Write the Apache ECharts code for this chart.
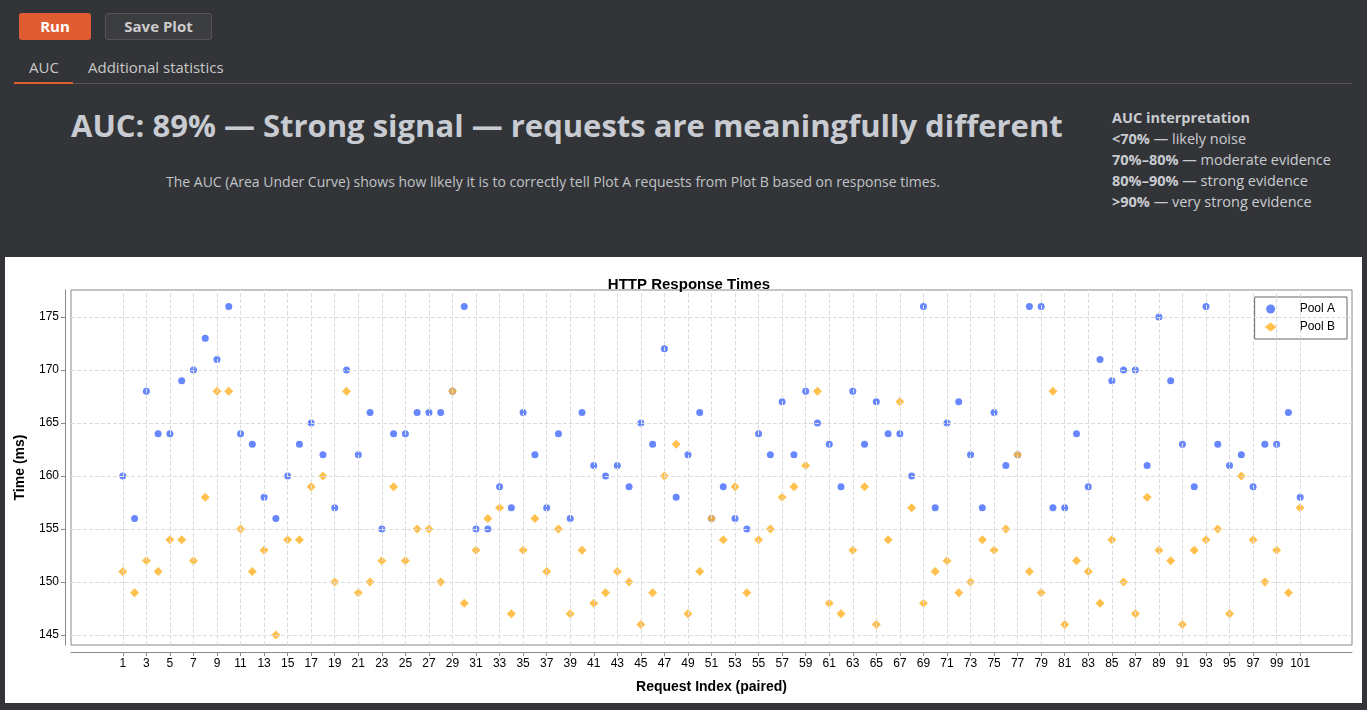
<!DOCTYPE html>
<html><head><meta charset="utf-8">
<script src="https://cdn.jsdelivr.net/npm/echarts@6/dist/echarts.min.js"></script>
<style>
body{margin:0;width:1367px;height:710px;background:#333437;font-family:"Open Sans","Noto Sans",sans-serif;overflow:hidden;position:relative;color:#ccc}
.btn{position:absolute;top:13px;height:27px;border-radius:3px;font-weight:bold;font-size:15px;line-height:27px;text-align:center}
#run{left:19px;width:72px;background:#e05d33;color:#fff}
#save{left:105px;width:105px;background:#3c3d41;border:1px solid #555;color:#ccc;height:25px;line-height:25px}
.tab{position:absolute;top:57px;font-size:15px;color:#c8c8c8}
#line{position:absolute;left:14px;top:83px;width:1338px;height:1px;background:#555}
#under{position:absolute;left:14px;top:82px;width:59px;height:2px;background:#e05d33}
#head{position:absolute;left:71px;top:104px;font-size:31px;font-weight:bold;color:#c8ccd2}
#sub{position:absolute;left:166px;top:172px;font-size:14px;color:#c0c4c8}
#interp{position:absolute;left:1112px;top:107px;font-size:14.5px;line-height:21px;color:#c8ccd2}
#chart{position:absolute;left:5px;top:257px;width:1357px;height:446px;background:#fff}
</style></head><body>
<div id="run" class="btn">Run</div><div id="save" class="btn">Save Plot</div>
<div class="tab" style="left:29px">AUC</div><div class="tab" style="left:88px">Additional statistics</div>
<div id="line"></div><div id="under"></div>
<div id="head">AUC: 89% — Strong signal — requests are meaningfully different</div>
<div id="sub">The AUC (Area Under Curve) shows how likely it is to correctly tell Plot A requests from Plot B based on response times.</div>
<div id="interp"><b>AUC interpretation</b><br><b>&lt;70%</b> — likely noise<br><b>70%–80%</b> — moderate evidence<br><b>80%–90%</b> — strong evidence<br><b>&gt;90%</b> — very strong evidence</div>
<div id="chart"></div>
<script>
const poolA=[160,156,168,164,164,169,170,173,171,176,164,163,158,156,160,163,165,162,157,170,162,166,155,164,164,166,166,166,168,176,155,155,159,157,166,162,157,164,156,166,161,160,161,159,165,163,172,158,162,166,156,159,156,155,164,162,167,162,168,165,163,159,168,163,167,164,164,160,176,157,165,167,162,157,166,161,162,176,176,157,157,164,159,171,169,170,170,161,175,169,163,159,176,163,161,162,159,163,163,166,158];
const poolB=[151,149,152,151,154,154,152,158,168,168,155,151,153,145,154,154,159,160,150,168,149,150,152,159,152,155,155,150,168,148,153,156,157,147,153,156,151,155,147,153,148,149,151,150,146,149,160,163,147,151,156,154,159,149,154,155,158,159,161,168,148,147,153,159,146,154,167,157,148,151,152,149,150,154,153,155,162,151,149,168,146,152,151,148,154,150,147,158,153,152,146,153,154,155,147,160,154,150,153,149,157];
const yTicks=[145,150,155,160,165,170,175];
const xTicks=[];for(let i=1;i<=101;i+=2)xTicks.push(i);
const gl={type:'dashed',color:'#dcdcdc',width:1};
const ch=echarts.init(document.getElementById('chart'));
ch.setOption({
 animation:false,
 title:{text:'HTTP Response Times',left:679,top:15,textAlign:'center',textStyle:{fontSize:15,fontWeight:'bold',color:'#000',fontFamily:'Liberation Sans'}},
 legend:{right:15,top:40,orient:'vertical',borderColor:'#666',borderWidth:1,borderRadius:0,padding:[6,12,6,10],itemGap:6,itemWidth:12,itemHeight:9,textStyle:{fontSize:12,color:'#000',fontFamily:'Liberation Sans',padding:[0,0,0,18]},data:['Pool A','Pool B']},
 grid:{left:63,right:10,top:33,bottom:58,show:true,borderColor:'#888',borderWidth:1,backgroundColor:'transparent'},
 xAxis:{type:'value',min:-3.4,max:105.4,name:'Request Index (paired)',nameLocation:'middle',nameGap:28,nameTextStyle:{fontSize:14,fontWeight:'bold',color:'#000',fontFamily:'Liberation Sans'},
  axisLine:{show:true,onZero:false,lineStyle:{color:'#888'}},offset:7,splitLine:{show:false},
  axisTick:{customValues:xTicks,length:4,lineStyle:{color:'#888'}},axisLabel:{customValues:xTicks,fontSize:12,color:'#000',fontFamily:'Liberation Sans',margin:6}},
 yAxis:{type:'value',min:144.06,max:177.55,name:'Time (ms)',nameLocation:'middle',nameGap:38,nameTextStyle:{fontSize:14,fontWeight:'bold',color:'#000',fontFamily:'Liberation Sans'},
  axisLine:{show:true,onZero:false,lineStyle:{color:'#888'}},offset:6,splitLine:{show:false},
  axisTick:{customValues:yTicks,length:4,lineStyle:{color:'#888'}},axisLabel:{customValues:yTicks,fontSize:12,color:'#000',fontFamily:'Liberation Sans',margin:6}},
 series:[
  {type:'scatter',name:'grid',silent:true,data:[],markLine:{silent:true,symbol:'none',label:{show:false},lineStyle:gl,animation:false,
    data:[...yTicks.map(v=>({yAxis:v})),...xTicks.map(v=>({xAxis:v}))]}},
  {type:'scatter',name:'Pool A',symbol:'circle',symbolSize:7,itemStyle:{color:'#4169ff'},data:poolA.map((v,i)=>[i+1,v])},
  {type:'scatter',name:'Pool B',symbol:'diamond',symbolSize:9,itemStyle:{color:'#ffb52e',opacity:0.85},data:poolB.map((v,i)=>[i+1,v])}
 ]
});
</script></body></html>
